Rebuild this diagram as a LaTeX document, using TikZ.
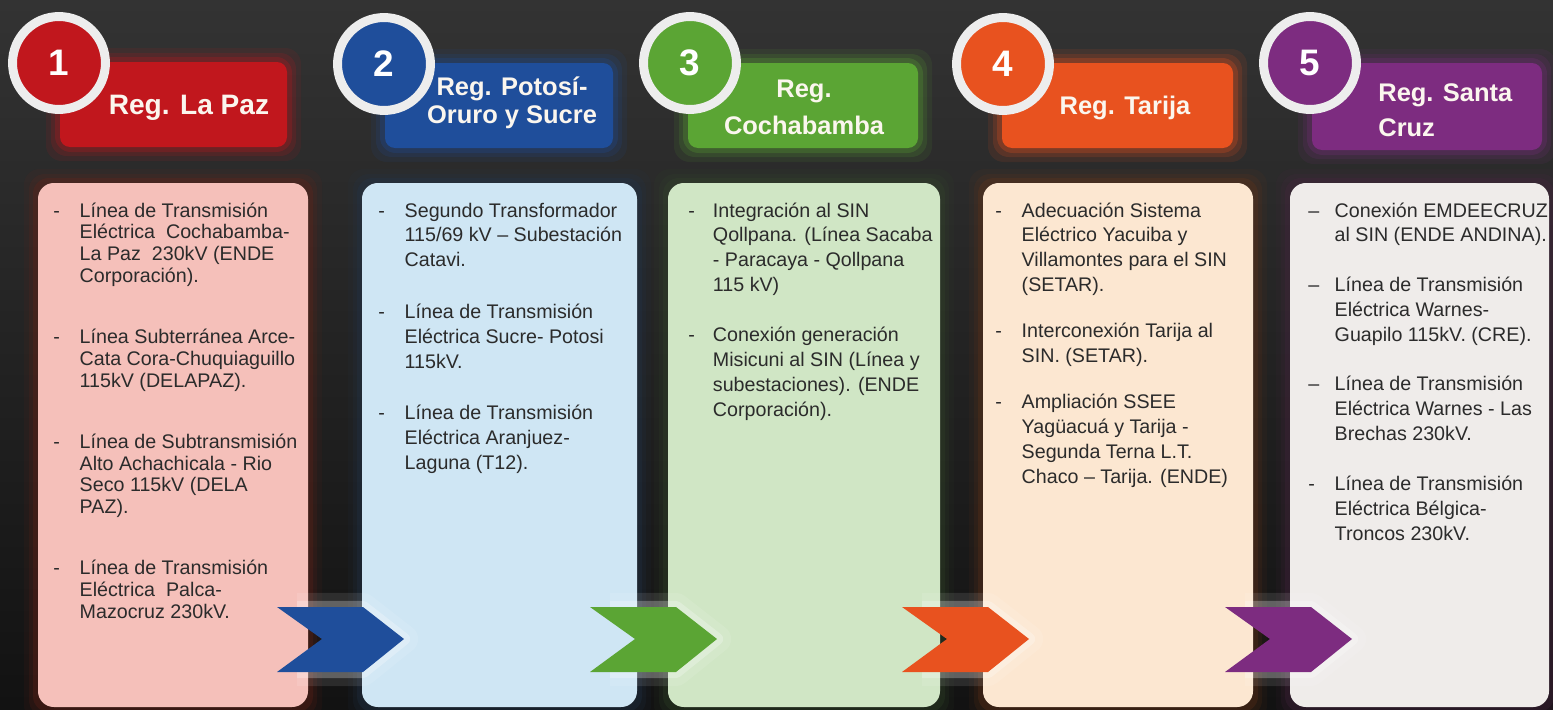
\documentclass[tikz,border=0pt]{standalone}
\usepackage{fontspec}
\setmainfont{Liberation Sans}
\usetikzlibrary{calc}

\definecolor{rojo}{HTML}{C1171D}
\definecolor{rojoC}{HTML}{F5C0BA}
\definecolor{rojoO}{HTML}{6E2418}
\definecolor{azul}{HTML}{1F4E9B}
\definecolor{azulC}{HTML}{CFE6F4}
\definecolor{azulO}{HTML}{22364F}
\definecolor{verde}{HTML}{5BA534}
\definecolor{verdeC}{HTML}{D0E6C5}
\definecolor{verdeO}{HTML}{34492A}
\definecolor{naranja}{HTML}{E8521F}
\definecolor{naranjaC}{HTML}{FCE7D1}
\definecolor{naranjaO}{HTML}{6A3518}
\definecolor{morado}{HTML}{7D2C80}
\definecolor{moradoC}{HTML}{EFECEA}
\definecolor{moradoO}{HTML}{4A2542}
\definecolor{gris}{HTML}{EDEDED}
\definecolor{crema}{HTML}{FBF6EE}
\definecolor{texto}{HTML}{2B2B2B}

% halo suave alrededor de un recuadro
\def\brillo[#1](#2,#3)(#4,#5){%
  \foreach \d/\o in {14/0.10,9/0.16,5/0.25}{%
    \fill[#1, opacity=\o, rounded corners=9pt] ({#2-\d},{#3-\d}) rectangle ({#4+\d},{#5+\d});}}
% flecha entre columnas
\def\flecha(#1)#2{%
  \begin{scope}[shift={(#1,607)}]
    \draw[white, opacity=.10, line width=16pt, line join=round] (20,0) -- (86,0) -- (127,32) -- (86,65) -- (20,65);
    \draw[white, opacity=.25, line width=7pt, line join=round] (20,0) -- (86,0) -- (127,32) -- (86,65) -- (20,65);
    \fill[#2] (0,0) -- (86,0) -- (127,32) -- (86,65) -- (0,65) -- (45,32) -- cycle;
  \end{scope}}

\begin{document}
\begin{tikzpicture}[x=0.02cm, y=-0.02cm,
  numero/.style={circle, draw=gris, line width=5.1pt, minimum size=52.9pt, inner sep=0pt, text=white, font=\bfseries\fontsize{21}{21}\selectfont},
  titulo/.style={text=crema, inner sep=0pt, font=\bfseries\fontsize{14.5}{16}\selectfont},
  lista/.style={anchor=base west, inner sep=0pt, text=texto, font=\fontsize{11.2}{14.2}\selectfont},
  cabecera/.style={rounded corners=5.7pt},
  cuerpo/.style={rounded corners=9pt}]
  \useasboundingbox (0,0) rectangle (1553,710);
  %%%%% FONDO %%%%%
  \shade[top color=black!80, bottom color=black!93] (0,0) rectangle (1553,710);

  %%%%% CUERPOS %%%%%
  \brillo[rojoO](38,183)(308,707)
  \brillo[azulO](362,183)(637,707)
  \brillo[verdeO](668,183)(940,707)
  \brillo[naranjaO](983,183)(1253,707)
  \brillo[moradoO](1290,183)(1549,707)
  \fill[cuerpo, rojoC] (38,183) rectangle (308,707);
  \fill[cuerpo, azulC] (362,183) rectangle (637,707);
  \fill[cuerpo, verdeC] (668,183) rectangle (940,707);
  \fill[cuerpo, naranjaC] (983,183) rectangle (1253,707);
  \fill[cuerpo, moradoC] (1290,183) rectangle (1549,707);

  %%%%% CABECERAS %%%%%
  \brillo[rojo](60,62)(287,147)
  \brillo[azul](385,63)(613,148)
  \brillo[verde](688,63)(918,148)
  \brillo[naranja](1002,63)(1233,148)
  \brillo[morado](1312,63)(1542,150)
  \fill[cabecera, rojo] (60,62) rectangle (287,147);
  \fill[cabecera, azul] (385,63) rectangle (613,148);
  \fill[cabecera, verde] (688,63) rectangle (918,148);
  \fill[cabecera, naranja] (1002,63) rectangle (1233,148);
  \fill[cabecera, morado] (1312,63) rectangle (1542,150);

  \node[titulo, font=\bfseries\fontsize{16}{18}\selectfont] (t1) at (189,108) {Reg. La Paz};
  \node[titulo, align=center] (t2) at (512,103) {Reg. Potosí-\\Oruro y Sucre};
  \node[titulo, align=center, font=\bfseries\fontsize{14.5}{21}\selectfont] (t3) at (804,107) {Reg.\\Cochabamba};
  \node[titulo] (t4) at (1125,108) {Reg. Tarija};
  \node[titulo, anchor=west, align=left, font=\bfseries\fontsize{14.5}{20}\selectfont] (t5) at (1378,110) {Reg. Santa\\Cruz};

  %%%%% NUMEROS %%%%%
  \node[numero, fill=rojo] (n1) at (59,63) {1};
  \node[numero, fill=azul] (n2) at (384,64) {2};
  \node[numero, fill=verde] (n3) at (690,63) {3};
  \node[numero, fill=naranja] (n4) at (1003,64) {4};
  \node[numero, fill=morado] (n5) at (1310,63) {5};

  %%%%% LISTAS %%%%%
  \node[lista, font=\fontsize{11.2}{12.5}\selectfont] (l1) at (53,217) {%
    \begin{tabular}[t]{@{}p{15pt}@{}l@{}}
    - & Línea de Transmisión\\
      & Eléctrica\ \ Cochabamba-\\
      & La Paz\ \ 230kV (ENDE\\
      & Corporación).\\[22pt]
    - & Línea Subterránea Arce-\\
      & Cata Cora-Chuquiaguillo\\
      & 115kV (DELAPAZ).\\[22pt]
    - & Línea de Subtransmisión\\
      & Alto Achachicala - Rio\\
      & Seco 115kV (DELA\\
      & PAZ).\\[22pt]
    - & Línea de Transmisión\\
      & Eléctrica\ \ Palca-\\
      & Mazocruz 230kV.
    \end{tabular}};
  \node[lista] (l2) at (378,217) {%
    \begin{tabular}[t]{@{}p{15pt}@{}l@{}}
    - & Segundo Transformador\\
      & 115/69 kV – Subestación\\
      & Catavi.\\[15pt]
    - & Línea de Transmisión\\
      & Eléctrica Sucre- Potosi\\
      & 115kV.\\[15pt]
    - & Línea de Transmisión\\
      & Eléctrica Aranjuez-\\
      & Laguna (T12).
    \end{tabular}};
  \node[lista] (l3) at (688,217) {%
    \begin{tabular}[t]{@{}p{14pt}@{}l@{}}
    - & Integración al SIN\\
      & Qollpana. (Línea Sacaba\\
      & - Paracaya - Qollpana\\
      & 115 kV)\\[14pt]
    - & Conexión generación\\
      & Misicuni al SIN (Línea y\\
      & subestaciones). (ENDE\\
      & Corporación).
    \end{tabular}};
  \node[lista] (l4) at (995,217) {%
    \begin{tabular}[t]{@{}p{15pt}@{}l@{}}
    - & Adecuación Sistema\\
      & Eléctrico Yacuiba y\\
      & Villamontes para el SIN\\
      & (SETAR).\\[12pt]
    - & Interconexión Tarija al\\
      & SIN. (SETAR).\\[12pt]
    - & Ampliación SSEE\\
      & Yagüacuá y Tarija -\\
      & Segunda Terna L.T.\\
      & Chaco – Tarija. (ENDE)
    \end{tabular}};
  \node[lista] (l5) at (1308,217) {%
    \begin{tabular}[t]{@{}p{15pt}@{}l@{}}
    – & Conexión EMDEECRUZ\\
      & al SIN (ENDE ANDINA).\\[14pt]
    – & Línea de Transmisión\\
      & Eléctrica Warnes-\\
      & Guapilo 115kV. (CRE).\\[14pt]
    – & Línea de Transmisión\\
      & Eléctrica Warnes - Las\\
      & Brechas 230kV.\\[14pt]
    - & Línea de Transmisión\\
      & Eléctrica Bélgica-\\
      & Troncos 230kV.
    \end{tabular}};

  %%%%% FLECHAS %%%%%
  \flecha(277){azul}
  \flecha(590){verde}
  \flecha(902){naranja}
  \flecha(1225){morado}
\end{tikzpicture}
\end{document}
